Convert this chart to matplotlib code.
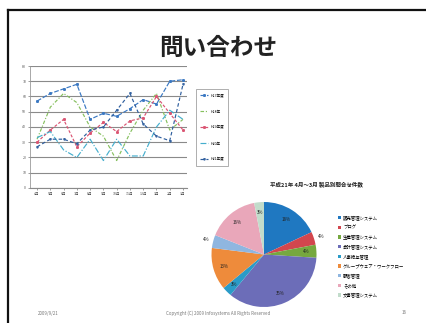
import matplotlib
matplotlib.use("Agg")
import matplotlib.pyplot as plt
from matplotlib.lines import Line2D

plt.rcParams['font.family'] = ['Noto Sans CJK JP', 'DejaVu Sans']

# ---- data -------------------------------------------------------------
months = ["4月", "5月", "6月", "7月", "8月", "9月", "10月", "11月", "12月", "1月", "2月", "3月"]
series_names = ["H17年度", "H18年", "H19年度", "H20年", "H21年度"]
series_a = [57, 62, 65, 68, 45, 49, 47, 52, 58, 55, 70, 71]
series_b = [32, 53, 62, 56, 40, 34, 18, 36, 51, 62, 38, 45]
series_c = [30, 38, 45, 27, 36, 43, 37, 44, 46, 60, 49, 38]
series_d = [33, 37, 25, 20, 32, 18, 32, 21, 21, 40, 51, 45]
series_e = [27, 32, 32, 29, 38, 40, 51, 62, 42, 34, 31, 68]
y_ticks = [0, 10, 20, 30, 40, 50, 60, 70, 80]

products = ["販売管理システム", "ブログ", "生産管理システム", "会計管理システム",
            "人事給与管理", "グループウェア・ワークフロー", "顧客管理",
            "その他", "文書管理システム"]
shares = [18, 4, 4, 35, 3, 13, 4, 16, 3]

pie_title = "平成21年 4月～3月 製品別問合せ件数"
slide_title = "問い合わせ"

# ---- figure -----------------------------------------------------------
W, H = 426, 323
fig = plt.figure(figsize=(W / 100, H / 100), dpi=100)
fig.patch.set_facecolor("white")

# slide frame
fig.add_artist(Line2D([8 / W, 1.0], [1 - 10 / H, 1 - 10 / H], color="#111111", lw=1.6))
fig.add_artist(Line2D([8 / W, 8 / W], [1 - 10 / H, 0.0], color="#111111", lw=1.6))

fig.text(218 / W, 1 - 48 / H, slide_title, ha="center", va="center",
         fontsize=17, fontweight="bold", color="#222222")

# ---- line chart -------------------------------------------------------
ax = fig.add_axes([30 / W, 1 - 188 / H, 157 / W, 122 / H])
x = list(range(len(months)))
styles = [
    (series_a, "#3A78C2", (0, (4, 1.5)), "s"),
    (series_b, "#86C05E", (0, (3, 1.5, 1, 1.5)), None),
    (series_c, "#DA5472", (0, (2.5, 1.5)), "s"),
    (series_d, "#45AECD", (0, (5, 1.5, 1, 1.5)), None),
    (series_e, "#2E5E9E", (0, (3, 2)), "v"),
]
for (vals, col, ls, mk), name in zip(styles, series_names):
    ax.plot(x, vals, color=col, lw=0.85, linestyle=ls, marker=mk,
            markersize=1.1, label=name)

ax.set_xlim(-0.53, 11.3)
ax.set_ylim(0, 80)
ax.set_yticks(y_ticks)
ax.set_xticks(x)
ax.set_xticklabels(months)
ax.grid(axis="y", color="#8a8a8a", lw=0.8)
ax.set_axisbelow(True)
for s in ["top", "right"]:
    ax.spines[s].set_visible(False)
ax.spines["left"].set_color("#9a9a9a")
ax.spines["left"].set_linewidth(0.6)
ax.spines["bottom"].set_color("#8a8a8a")
ax.spines["bottom"].set_linewidth(0.8)
ax.tick_params(axis="both", labelsize=2.6, colors="#555555", length=1.2, width=0.4, pad=1.5)

leg = ax.legend(loc="center left", bbox_to_anchor=(164 / 157, 0.495),
                fontsize=2.6, frameon=True, fancybox=False, edgecolor="#8a8a8a",
                labelspacing=3.3, handlelength=2.2, borderpad=1.2, handletextpad=0.6)
leg.get_frame().set_linewidth(0.6)

# ---- pie chart --------------------------------------------------------
pie_colors = ["#1F78C1", "#D2464E", "#76A83F", "#6C6DB8", "#2A9BC8",
              "#EE8B3B", "#8FB6E0", "#E9A7BA", "#C2DCCB"]
pax = fig.add_axes([211.5 / W, 1 - 307 / H, 105 / W, 105 / H])
wedges, _texts, autotexts = pax.pie(
    shares, colors=pie_colors, startangle=90, counterclock=False,
    autopct="%d%%", pctdistance=0.8,
    textprops=dict(fontsize=3.2, color="#222222"),
    wedgeprops=dict(linewidth=0))
for i in (1, 6):
    px, py = autotexts[i].get_position()
    autotexts[i].set_position((px * 1.42, py * 1.42))
pax.set_xlim(-1, 1)
pax.set_ylim(-1, 1)
pax.set_aspect("equal")
for t in autotexts:
    t.set_clip_on(False)

fig.text(316 / W, 1 - 185 / H, pie_title, ha="center", va="center",
         fontsize=4.0, fontweight="bold", color="#222222")

fig.legend(wedges, products, loc="upper left", bbox_to_anchor=(336 / W, 1 - 213 / H),
           fontsize=3.2, frameon=False, labelspacing=1.05, handlelength=0.7,
           handleheight=0.7, handletextpad=0.4, borderpad=0)

# ---- footer -----------------------------------------------------------
fig.text(48 / W, 1 - 313 / H, "2009/9/21", ha="center", va="center",
         fontsize=3.2, color="#777777")
fig.text(218 / W, 1 - 313 / H, "Copyright (C) 2009 Infosystems All Rights Reserved",
         ha="center", va="center", fontsize=3.2, color="#777777")
fig.text(404 / W, 1 - 313 / H, "16", ha="center", va="center",
         fontsize=3.2, color="#777777")

fig.savefig("out.png", dpi=100)
